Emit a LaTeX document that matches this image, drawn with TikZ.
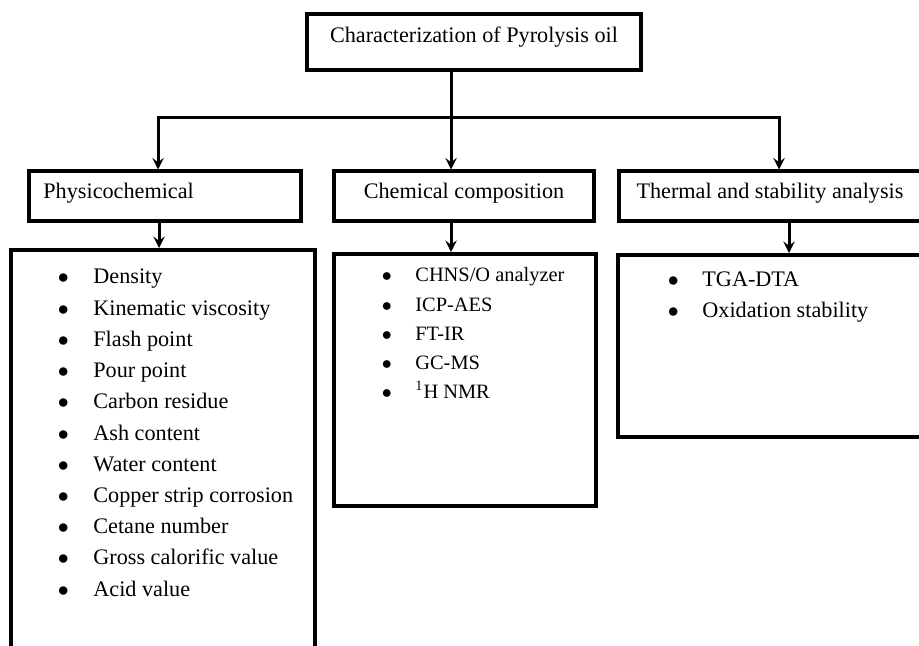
\documentclass[tikz,border=0pt]{standalone}
\usepackage{fontspec}
\setmainfont{Liberation Serif}
\begin{document}
\begin{tikzpicture}[x=0.5pt, y=-0.5pt, >=stealth,
	box/.style={draw, line width=2pt, rectangle, inner sep=0pt},
	txt/.style={font=\fontsize{11.1}{13}\selectfont, inner sep=0pt},
	item/.style={txt, anchor=base west},
	conn/.style={line width=1.5pt}]
	\useasboundingbox (0,0) rectangle (919,646);
	\clip (0,0) rectangle (919,646);
	% boxes
	\node[box, minimum width=167pt, minimum height=28pt] (top) at (474,42.5) {};
	\node[box, minimum width=136pt, minimum height=25pt] (phys) at (165,196.5) {};
	\node[box, minimum width=130pt, minimum height=25pt] (chem) at (463.5,196.5) {};
	\node[box, minimum width=153pt, minimum height=25pt] (therm) at (772,196.5) {};
	\node[box, minimum width=152pt, minimum height=215pt] (physL) at (163,465) {};
	\node[box, minimum width=131pt, minimum height=126pt] (chemL) at (464.5,380) {};
	\node[box, minimum width=156pt, minimum height=91pt] (thermL) at (774,346) {};
	% titles
	\node[txt] (topT) at (474,37) {Characterization of Pyrolysis oil};
	\node[txt, anchor=west] (physT) at (43,193) {Physicochemical};
	\node[txt] (chemT) at (464,193) {Chemical composition};
	\node[txt] (thermT) at (770,193) {Thermal and stability analysis};
	% connectors
	\coordinate (hub) at (451,118);
	\coordinate (jl) at (158,118);
	\coordinate (jr) at (779,118);
	\draw[conn] (top.south -| hub) -- (hub);
	\draw[conn,->] (hub) -- (jl) -- (jl |- phys.north);
	\draw[conn,->] (hub) -- (jr) -- (jr |- therm.north);
	\draw[conn,->] (hub) -- (hub |- chem.north);
	\coordinate (dl) at (159,0);
	\coordinate (dm) at (451,0);
	\coordinate (dr) at (789,0);
	\draw[conn,->] (dl |- phys.south) -- (dl |- physL.north);
	\draw[conn,->] (dm |- chem.south) -- (dm |- chemL.north);
	\draw[conn,->] (dr |- therm.south) -- (dr |- thermL.north);
	% lists
	\foreach \t [count=\i from 0] in {Density, Kinematic viscosity, Flash point, Pour point, Carbon residue, Ash content, Water content, Copper strip corrosion, Cetane number, Gross calorific value, Acid value}
		\node[item] (p\i) at (57.5,{284+31.2*\i}) {\makebox[17.75pt][l]{$\bullet$}\t};
	\foreach \t [count=\i from 0] in {CHNS/O analyzer, ICP-AES, FT-IR, GC-MS, \textsuperscript{1}H NMR}
		\node[item, font=\fontsize{10.2}{12}\selectfont] (c\i) at (381.5,{282+29*\i}) {\makebox[16.75pt][l]{$\bullet$}\t};
	\foreach \t [count=\i from 0] in {TGA-DTA, Oxidation stability}
		\node[item] (t\i) at (667.5,{286+31*\i}) {\makebox[17.25pt][l]{$\bullet$}\t};
\end{tikzpicture}
\end{document}
